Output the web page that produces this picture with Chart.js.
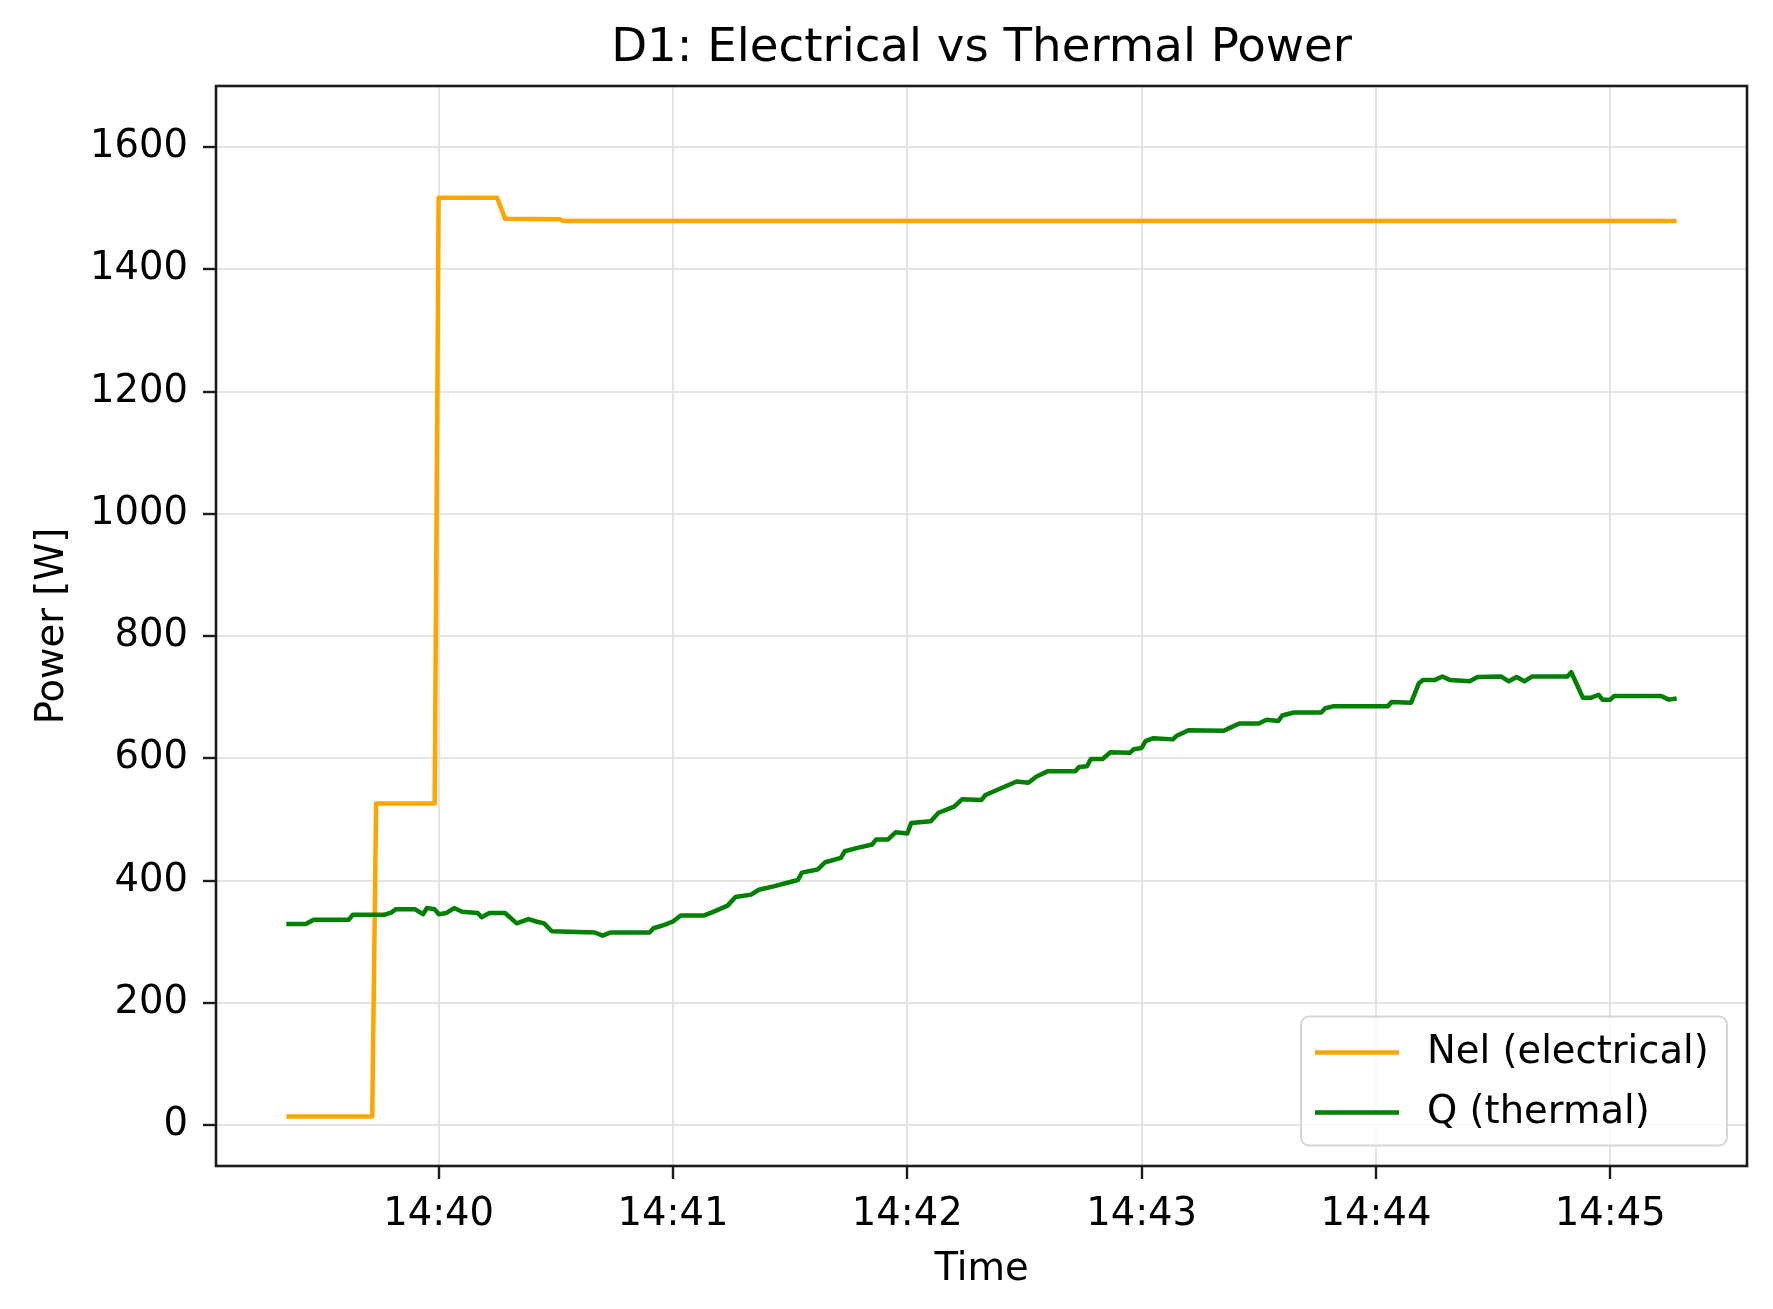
<!DOCTYPE html>
<html>
<head>
<meta charset="utf-8">
<title>D1: Electrical vs Thermal Power</title>
<script src="https://cdn.jsdelivr.net/npm/chart.js@4.4.1/dist/chart.umd.min.js"></script>
<style>
  html, body { margin: 0; padding: 0; background: #fff; }
  #wrap { width: 1773px; height: 1309px; }
</style>
</head>
<body>
<div id="wrap"><canvas id="powerChart" width="1773" height="1309"></canvas></div>
<script>
// values, times as hh:mm:ss
const nelTimes = ['14:39:21', '14:39:43', '14:39:44', '14:39:59', '14:40:00',
  '14:40:15', '14:40:17', '14:40:31', '14:40:32', '14:45:17'];
const nelValues = [14, 14, 526, 526, 1517, 1517, 1483, 1482, 1479, 1479];

const qTimes = [
  '14:39:21', '14:39:26', '14:39:28', '14:39:37', '14:39:38', '14:39:46', '14:39:48', '14:39:49', '14:39:54', '14:39:56',
  '14:39:57', '14:39:59', '14:40:00', '14:40:02', '14:40:04', '14:40:06', '14:40:10', '14:40:11', '14:40:13', '14:40:17',
  '14:40:20', '14:40:23', '14:40:25', '14:40:27', '14:40:29', '14:40:40', '14:40:42', '14:40:44', '14:40:54', '14:40:55',
  '14:40:58', '14:41:00', '14:41:02', '14:41:08', '14:41:10', '14:41:14', '14:41:16', '14:41:20', '14:41:22', '14:41:26',
  '14:41:29', '14:41:32', '14:41:33', '14:41:37', '14:41:39', '14:41:43', '14:41:44', '14:41:47', '14:41:51', '14:41:52',
  '14:41:55', '14:41:57', '14:42:00', '14:42:01', '14:42:06', '14:42:08', '14:42:12', '14:42:14', '14:42:19', '14:42:20',
  '14:42:24', '14:42:28', '14:42:31', '14:42:33', '14:42:36', '14:42:43', '14:42:44', '14:42:46', '14:42:47', '14:42:50',
  '14:42:52', '14:42:57', '14:42:58', '14:43:00', '14:43:01', '14:43:03', '14:43:08', '14:43:09', '14:43:12', '14:43:21',
  '14:43:23', '14:43:25', '14:43:30', '14:43:32', '14:43:35', '14:43:36', '14:43:39', '14:43:46', '14:43:47', '14:43:49',
  '14:44:03', '14:44:04', '14:44:09', '14:44:11', '14:44:12', '14:44:15', '14:44:17', '14:44:19', '14:44:24', '14:44:26',
  '14:44:32', '14:44:34', '14:44:36', '14:44:38', '14:44:40', '14:44:49', '14:44:50', '14:44:51', '14:44:53', '14:44:55',
  '14:44:57', '14:44:58', '14:45:00', '14:45:01', '14:45:13', '14:45:15', '14:45:17'
];
const qValues = [
  329, 329, 336, 336, 344, 344, 348, 353, 353, 345,
  355, 353, 345, 347, 355, 349, 347, 340, 347, 347,
  330, 337, 333, 330, 317, 315, 310, 315, 315, 322,
  328, 333, 343, 343, 348, 359, 373, 377, 385, 391,
  396, 401, 413, 418, 430, 437, 448, 453, 459, 467,
  467, 479, 477, 494, 497, 511, 521, 533, 532, 540,
  551, 562, 560, 570, 579, 579, 586, 587, 599, 599,
  610, 609, 615, 617, 628, 633, 631, 637, 646, 645,
  651, 657, 657, 663, 661, 670, 675, 675, 682, 685,
  685, 692, 691, 723, 728, 728, 734, 728, 726, 733,
  734, 726, 733, 726, 734, 734, 741, 727, 699, 699,
  704, 696, 696, 702, 702, 696, 698
];

const seriesLabels = ['Nel (electrical)', 'Q (thermal)'];
const xTickLabels = ['14:40', '14:41', '14:42', '14:43', '14:44', '14:45'];
const yTickValues = [0, 200, 400, 600, 800, 1000, 1200, 1400, 1600];

const toSeconds = (hms) => {
  const p = hms.split(':').map(Number);
  return p[0] * 3600 + p[1] * 60 + (p[2] || 0);
};
const fmtTime = (sec) => {
  const h = Math.floor(sec / 3600);
  const m = Math.floor((sec % 3600) / 60);
  return h + ':' + String(m).padStart(2, '0');
};
const toPoints = (times, values) => times.map((t, i) => ({ x: toSeconds(t), y: values[i] }));

const FONT = 'DejaVu Sans';
const LINE_W = 4.5;
Chart.defaults.font.family = FONT;
Chart.defaults.color = '#000';

// axes box on all four sides, like matplotlib spines
const framePlugin = {
  id: 'frame',
  afterDatasetsDraw(chart) {
    const { ctx, chartArea: a } = chart;
    ctx.save();
    ctx.strokeStyle = '#1c1c1c';
    ctx.lineWidth = 2.6;
    ctx.strokeRect(a.left, a.top, a.right - a.left, a.bottom - a.top);
    ctx.restore();
  }
};

// legend box in the lower right corner of the plot
const cornerLegend = {
  id: 'cornerLegend',
  afterDraw(chart) {
    const { ctx, chartArea: a } = chart;
    const w = 426, h = 129;
    const x = a.right - 20 - w, y = a.bottom - 20.5 - h;
    ctx.save();
    ctx.beginPath();
    ctx.roundRect(x, y, w, h, 8);
    ctx.fillStyle = 'rgba(255,255,255,0.8)';
    ctx.fill();
    ctx.strokeStyle = '#d6d6d6';
    ctx.lineWidth = 2;
    ctx.stroke();
    ctx.font = '38.5px "' + FONT + '"';
    ctx.textBaseline = 'middle';
    ctx.textAlign = 'left';
    chart.data.datasets.forEach((ds, i) => {
      const ly = y + 36 + i * 60;
      ctx.beginPath();
      ctx.moveTo(x + 14, ly);
      ctx.lineTo(x + 98, ly);
      ctx.strokeStyle = ds.borderColor;
      ctx.lineWidth = LINE_W;
      ctx.stroke();
      ctx.fillStyle = '#000';
      ctx.fillText(ds.label, x + 126, ly);
    });
    ctx.restore();
  }
};

new Chart(document.getElementById('powerChart'), {
  type: 'line',
  data: {
    datasets: [
      {
        label: seriesLabels[0],
        data: toPoints(nelTimes, nelValues),
        borderColor: '#ffa500',
        borderWidth: LINE_W,
        pointRadius: 0,
        tension: 0,
        borderJoinStyle: 'round',
        order: 1
      },
      {
        label: seriesLabels[1],
        data: toPoints(qTimes, qValues),
        borderColor: '#008000',
        borderWidth: LINE_W,
        pointRadius: 0,
        tension: 0,
        borderJoinStyle: 'round',
        order: 0
      }
    ]
  },
  options: {
    responsive: false,
    animation: false,
    devicePixelRatio: 1,
    layout: { padding: { left: 0, right: 26, top: 0, bottom: 0 } },
    plugins: {
      legend: { display: false },
      tooltip: { enabled: false },
      title: {
        display: true,
        fullSize: false,
        text: 'D1: Electrical vs Thermal Power',
        color: '#000',
        font: { size: 46.7, weight: 'normal', lineHeight: 1 },
        padding: { top: 26, bottom: 13.3 }
      }
    },
    scales: {
      x: {
        type: 'linear',
        min: toSeconds('14:39:03'),
        max: toSeconds('14:45:35'),
        afterBuildTicks: (axis) => {
          axis.ticks = xTickLabels.map(l => ({ value: toSeconds(l) }));
        },
        afterFit: (axis) => { axis.height = 143; },
        ticks: {
          callback: (v) => fmtTime(v),
          font: { size: 38.5 },
          color: '#000',
          padding: 12.5,
          maxRotation: 0,
          autoSkip: false
        },
        grid: {
          color: '#e4e4e4',
          lineWidth: 2,
          tickColor: '#1c1c1c',
          tickLength: 13,
          tickWidth: 2.4
        },
        border: { display: false },
        title: {
          display: true,
          text: 'Time',
          color: '#000',
          font: { size: 38.5 },
          padding: { top: 15, bottom: 15.5 }
        }
      },
      y: {
        type: 'linear',
        min: -67,
        max: 1700,
        afterBuildTicks: (axis) => {
          axis.ticks = yTickValues.map(v => ({ value: v }));
        },
        afterFit: (axis) => { axis.width = 216; },
        ticks: {
          callback: (v) => String(v),
          font: { size: 38.5 },
          color: '#000',
          padding: 15
        },
        grid: {
          color: '#e4e4e4',
          lineWidth: 2,
          tickColor: '#1c1c1c',
          tickLength: 13,
          tickWidth: 2.4
        },
        border: { display: false },
        title: {
          display: true,
          text: 'Power [W]',
          color: '#000',
          font: { size: 38.5 },
          padding: { top: 30, bottom: 0 }
        }
      }
    }
  },
  plugins: [framePlugin, cornerLegend]
});
</script>
</body>
</html>
